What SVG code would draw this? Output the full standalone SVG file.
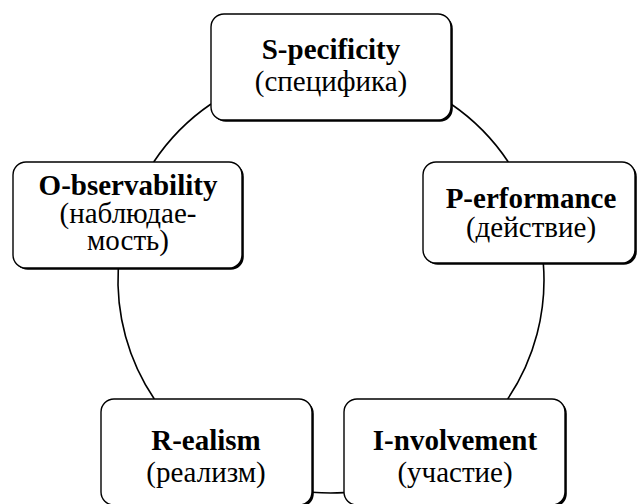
<svg xmlns="http://www.w3.org/2000/svg" width="637" height="504" viewBox="0 0 637 504">
<style>
.sh{fill:#000;}
.bx{fill:#fff;stroke:#000;stroke-width:1.4;}
.c{fill:none;stroke:#000;stroke-width:1.6;}
.tx{font-family:'Liberation Serif','DejaVu Serif','Times New Roman',serif;font-size:29px;text-anchor:middle;fill:#000;}
.t{font-weight:bold;}
</style>
<rect width="637" height="504" fill="#fff"/>
<g id="connectors">
<path class="c" d="M211,104 A213,213 0 0 0 153.7,162"/>
<path class="c" d="M118.3,268 A213,213 0 0 0 154.3,399"/>
<path class="c" d="M312,492.2 A213,213 0 0 0 344,492.6"/>
<path class="c" d="M507.7,399 A213,213 0 0 0 543.3,263"/>
<path class="c" d="M508.3,162 A213,213 0 0 0 451,104"/>
</g>
<g id="node-s">
<rect class="sh" x="212.8" y="15.8" width="240" height="106" rx="13"/>
<rect class="bx" x="211" y="14" width="240" height="106" rx="13"/>
<text class="tx t" font-family="Liberation Serif, DejaVu Serif, serif" x="331" y="59">S-pecificity</text>
<text class="tx" font-family="Liberation Serif, DejaVu Serif, serif" x="331" y="91">(специфика)</text>
</g>
<g id="node-o">
<rect class="sh" x="14.8" y="163.8" width="229" height="106" rx="13"/>
<rect class="bx" x="13" y="162" width="229" height="106" rx="13"/>
<text class="tx t" font-family="Liberation Serif, DejaVu Serif, serif" x="128" y="195">O-bservability</text>
<text class="tx" font-family="Liberation Serif, DejaVu Serif, serif" x="128" y="223">(наблюдае-</text>
<text class="tx" font-family="Liberation Serif, DejaVu Serif, serif" x="128" y="250">мость)</text>
</g>
<g id="node-p">
<rect class="sh" x="424.8" y="163.8" width="212" height="101" rx="13"/>
<rect class="bx" x="423" y="162" width="212" height="101" rx="13"/>
<text class="tx t" font-family="Liberation Serif, DejaVu Serif, serif" x="531" y="208">P-erformance</text>
<text class="tx" font-family="Liberation Serif, DejaVu Serif, serif" x="531" y="237">(действие)</text>
</g>
<g id="node-r">
<rect class="sh" x="102.8" y="400.8" width="211" height="106" rx="13"/>
<rect class="bx" x="101" y="399" width="211" height="106" rx="13"/>
<text class="tx t" font-family="Liberation Serif, DejaVu Serif, serif" x="206" y="450">R-ealism</text>
<text class="tx" font-family="Liberation Serif, DejaVu Serif, serif" x="206" y="482">(реализм)</text>
</g>
<g id="node-i">
<rect class="sh" x="345.8" y="400.8" width="221" height="106" rx="13"/>
<rect class="bx" x="344" y="399" width="221" height="106" rx="13"/>
<text class="tx t" font-family="Liberation Serif, DejaVu Serif, serif" x="455" y="450">I-nvolvement</text>
<text class="tx" font-family="Liberation Serif, DejaVu Serif, serif" x="455" y="482">(участие)</text>
</g>
</svg>
